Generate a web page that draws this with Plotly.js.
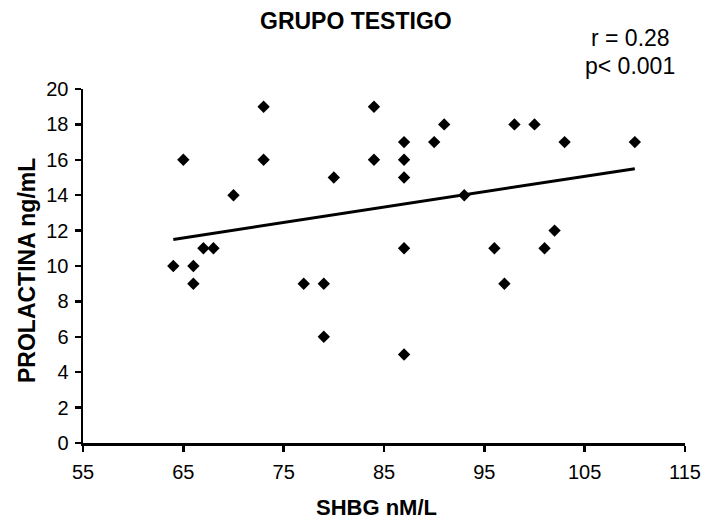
<!DOCTYPE html>
<html>
<head>
<meta charset="utf-8">
<script src="https://cdn.plot.ly/plotly-3.0.1.min.js"></script>
<style>html,body{margin:0;padding:0;background:#fff;}#chart{width:706px;height:526px;}</style>
</head>
<body>
<div id="chart"></div>
<script>
// SHBG (nM/L) and PROLACTINA (ng/mL) values
const shbg = [64, 65, 66, 66, 67, 68, 70, 73, 73, 77, 79, 79, 80, 84, 84, 87, 87, 87, 87, 87, 90, 91, 93, 96, 97, 98, 100, 101, 102, 103, 110];
const prolactina = [10, 16, 10, 9, 11, 11, 14, 19, 16, 9, 9, 6, 15, 19, 16, 17, 16, 15, 11, 5, 17, 18, 14, 11, 9, 18, 18, 11, 12, 17, 17];
// Trend line endpoints
const trendX = [64, 110];
const trendY = [11.5, 15.5];
const xTicks = [55, 65, 75, 85, 95, 105, 115];
const yTicks = [0, 2, 4, 6, 8, 10, 12, 14, 16, 18, 20];

const FONT = 'Arial, "Liberation Sans", Helvetica, sans-serif';
const W = 706, H = 526;
const M = {l: 83, r: 21, t: 89, b: 83};
const PW = W - M.l - M.r, PH = H - M.t - M.b;
// helpers converting pixel placement of free text to paper coordinates
const px = x => (x - M.l) / PW;
const py = y => (H - M.b - y) / PH;

const data = [
  {
    x: trendX, y: trendY, type: 'scatter', mode: 'lines',
    line: {color: '#000', width: 3},
    showlegend: false
  },
  {
    x: shbg, y: prolactina, type: 'scatter', mode: 'markers',
    marker: {symbol: 'diamond', size: 9.5, color: '#000'},
    showlegend: false, cliponaxis: false
  }
];

const layout = {
  width: W, height: H,
  margin: M,
  paper_bgcolor: '#fff', plot_bgcolor: '#fff',
  font: {family: FONT, color: '#000', size: 20},
  xaxis: {
    range: [55, 115], tickvals: xTicks, ticktext: xTicks.map(String),
    showgrid: false, zeroline: false, showline: true, linecolor: '#000', linewidth: 2.5,
    ticks: 'outside', ticklen: 6, tickwidth: 2.5, tickcolor: '#000',
    tickfont: {family: FONT, size: 20, color: '#000'},
    ticklabelstandoff: 3,
    automargin: false
  },
  yaxis: {
    range: [0, 20], tickvals: yTicks, ticktext: yTicks.map(String),
    showgrid: false, zeroline: false, showline: true, linecolor: '#000', linewidth: 2.5,
    ticks: 'outside', ticklen: 6, tickwidth: 2.5, tickcolor: '#000',
    tickfont: {family: FONT, size: 20, color: '#000'},
    ticklabelstandoff: 2,
    automargin: false
  },
  annotations: [
    {text: '<b>GRUPO TESTIGO</b>', xref: 'paper', yref: 'paper', x: px(356), y: py(21), xanchor: 'center', yanchor: 'middle', showarrow: false, font: {family: FONT, size: 23, color: '#000'}},
    {text: 'r = 0.28', xref: 'paper', yref: 'paper', x: px(630), y: py(38), xanchor: 'center', yanchor: 'middle', showarrow: false, font: {family: FONT, size: 23, color: '#000'}},
    {text: 'p< 0.001', xref: 'paper', yref: 'paper', x: px(630), y: py(66), xanchor: 'center', yanchor: 'middle', showarrow: false, font: {family: FONT, size: 23, color: '#000'}},
    {text: '<b>SHBG nM/L</b>', xref: 'paper', yref: 'paper', x: px(376), y: py(507), xanchor: 'center', yanchor: 'middle', showarrow: false, font: {family: FONT, size: 22, color: '#000'}},
    {text: '<b>PROLACTINA ng/mL</b>', xref: 'paper', yref: 'paper', x: px(27), y: py(271), xanchor: 'center', yanchor: 'middle', textangle: -90, showarrow: false, font: {family: FONT, size: 23, color: '#000'}}
  ]
};

Plotly.newPlot('chart', data, layout, {displayModeBar: false, staticPlot: true});
</script>
</body>
</html>
